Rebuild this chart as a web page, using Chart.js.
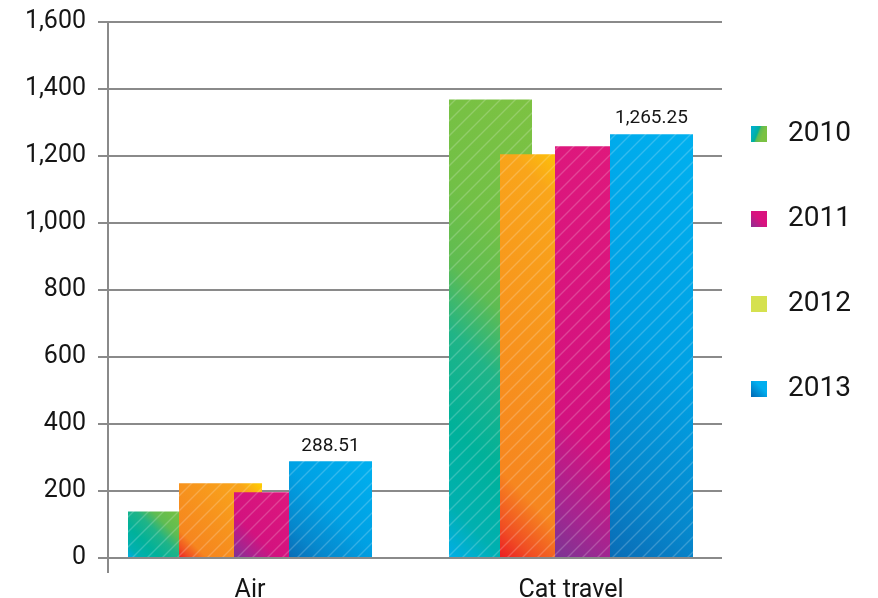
<!DOCTYPE html>
<html>
<head>
<meta charset="utf-8">
<script src="https://cdn.jsdelivr.net/npm/chart.js@4.4.1/dist/chart.umd.min.js"></script>
<style>
  html, body { margin: 0; padding: 0; background: #ffffff; }
  canvas { display: block; }
</style>
</head>
<body>
<canvas id="chart" width="878" height="598"></canvas>
<script>
// ---- data ----
const CATEGORIES = ['Air', 'Cat travel'];
const SERIES = ['2010', '2011', '2012', '2013'];
const VALUES_2010 = [139, 1369];
const VALUES_2011 = [223, 1205];
const VALUES_2012 = [196, 1229];
const VALUES_2013 = [288.51, 1265.25];
const Y_MIN = 0;
const Y_MAX = 1600;
const Y_STEP = 200;

const SERIES_VALUES = [VALUES_2010, VALUES_2011, VALUES_2012, VALUES_2013];

// ---- layout / style ----
// where each year's bar sits inside its category group (category units)
const GROUP_OFFSETS = [-0.2508, -0.0919, 0.0794, 0.2508];
const BAR_WIDTH = 83;
const GRID_COLOR = '#8a8a8a';
const TEXT_COLOR = '#151515';
const FONT = 'Roboto';

// colour stops along a 45° ramp from a bar's bottom-left to its top-right corner
const BAR_STOPS = [
  [[0, '#00aee8'], [0.1, '#00b0b0'], [0.25, '#00b19a'], [0.42, '#20b487'], [0.55, '#5fbc52'], [0.7, '#72c046'], [1, '#7dc242']],
  [[0, '#ec1c24'], [0.07, '#f04e23'], [0.18, '#f6861f'], [0.5, '#f7941d'], [0.85, '#f9a51a'], [1, '#ffd000']],
  [[0, '#7b3694'], [0.12, '#a42590'], [0.3, '#d3127f'], [1, '#e0197c']],
  [[0, '#0a6cb6'], [0.2, '#0687cc'], [0.5, '#00a0e3'], [1, '#00b0ef']]
];
const FLAT_COLORS = ['#4fb86b', '#f7931e', '#d7117f', '#00a0e3'];

// gradient + white hatching, built in canvas space for one bar
function barFill(seriesIndex) {
  return (ctx) => {
    const chart = ctx.chart;
    const xs = chart.scales && chart.scales.x;
    const ys = chart.scales && chart.scales.y;
    if (!xs || !ys || !ctx.parsed || !chart.chartArea) return FLAT_COLORS[seriesIndex];
    const cx = xs.getPixelForValue(ctx.parsed.x);
    const top = ys.getPixelForValue(ctx.parsed.y);
    const bottom = ys.getPixelForValue(0);
    const left = cx - BAR_WIDTH / 2;
    const right = cx + BAR_WIDTH / 2;
    if (!isFinite(cx) || !isFinite(top)) return FLAT_COLORS[seriesIndex];

    const c = document.createElement('canvas');
    c.width = chart.width;
    c.height = chart.height;
    const g = c.getContext('2d');
    const span = (right - left) + (bottom - top);
    const grad = g.createLinearGradient(left, bottom, left + span / 2, bottom - span / 2);
    BAR_STOPS[seriesIndex].forEach(([o, col]) => grad.addColorStop(o, col));
    g.fillStyle = grad;
    g.fillRect(left - 1, top - 1, right - left + 2, bottom - top + 2);

    g.save();
    g.beginPath();
    g.rect(left - 1, top - 1, right - left + 2, bottom - top + 2);
    g.clip();
    g.strokeStyle = 'rgba(255,255,255,0.2)';
    g.lineWidth = 1.4;
    g.beginPath();
    const step = 15;
    const start = Math.floor((left + top) / step) * step;
    for (let k = start; k <= right + bottom + step; k += step) {
      g.moveTo(k - bottom - 2, bottom + 2);
      g.lineTo(k - top + 2, top - 2);
    }
    g.stroke();
    g.restore();
    return g.createPattern(c, 'no-repeat');
  };
}

// small legend swatches
function swatch(paint) {
  const c = document.createElement('canvas');
  c.width = 16;
  c.height = 16;
  paint(c.getContext('2d'));
  return c;
}
const SWATCHES = [
  swatch((g) => {
    const gr = g.createLinearGradient(3, 2, 13, 6);
    gr.addColorStop(0, '#00afc8');
    gr.addColorStop(0.45, '#00b09a');
    gr.addColorStop(0.62, '#5cbb55');
    gr.addColorStop(1, '#7ac143');
    g.fillStyle = gr; g.fillRect(0, 0, 16, 16);
  }),
  swatch((g) => {
    const gr = g.createLinearGradient(0, 16, 8, 8);
    gr.addColorStop(0, '#8a3093');
    gr.addColorStop(1, '#d9127f');
    g.fillStyle = gr; g.fillRect(0, 0, 16, 16);
  }),
  swatch((g) => {
    g.fillStyle = '#d5e14f'; g.fillRect(0, 0, 16, 16);
  }),
  swatch((g) => {
    const gr = g.createLinearGradient(0, 16, 10, 6);
    gr.addColorStop(0, '#0066b1');
    gr.addColorStop(1, '#00aeef');
    g.fillStyle = gr; g.fillRect(0, 0, 16, 16);
  })
];

const datasets = SERIES.map((name, s) => ({
  label: name,
  data: CATEGORIES.map((_, i) => ({ x: i + GROUP_OFFSETS[s], y: SERIES_VALUES[s][i] })),
  backgroundColor: barFill(s),
  borderWidth: 0,
  grouped: false,
  barPercentage: 10,
  categoryPercentage: 1,
  maxBarThickness: BAR_WIDTH,
  order: SERIES.length - 1 - s
}));

const fmt2 = (v) => v.toLocaleString('en-US', { minimumFractionDigits: 2, maximumFractionDigits: 2 });

// value labels above the 2013 bars
const valueLabels = {
  id: 'valueLabels',
  afterDatasetsDraw(chart) {
    const s = SERIES.length - 1;
    const meta = chart.getDatasetMeta(s);
    const ctx = chart.ctx;
    ctx.save();
    ctx.font = '19px ' + FONT;
    ctx.fillStyle = TEXT_COLOR;
    ctx.textAlign = 'center';
    ctx.textBaseline = 'bottom';
    meta.data.forEach((bar, i) => {
      ctx.fillText(fmt2(SERIES_VALUES[s][i]), bar.x, bar.y - 6);
    });
    ctx.restore();
  }
};

// the y axis line runs a little below the plot
const axisStub = {
  id: 'axisStub',
  afterDraw(chart) {
    const { left, bottom } = chart.chartArea;
    const ctx = chart.ctx;
    ctx.save();
    ctx.strokeStyle = GRID_COLOR;
    ctx.lineWidth = 2;
    ctx.beginPath();
    ctx.moveTo(Math.round(left), bottom);
    ctx.lineTo(Math.round(left), bottom + 15);
    ctx.stroke();
    ctx.restore();
  }
};

new Chart(document.getElementById('chart'), {
  type: 'bar',
  data: { datasets },
  plugins: [valueLabels, axisStub],
  options: {
    responsive: false,
    animation: false,
    events: [],
    locale: 'en-US',
    layout: { padding: { top: 22, right: 27, bottom: 0, left: 0 } },
    plugins: {
      tooltip: { enabled: false },
      title: { display: false },
      legend: {
        position: 'right',
        fullSize: false,
        maxWidth: 129,
        align: 'center',
        labels: {
          usePointStyle: true,
          pointStyleWidth: 74,
          padding: 0,
          textAlign: 'right',
          color: TEXT_COLOR,
          font: { family: FONT, size: 28, lineHeight: '85px' },
          generateLabels: () => SERIES.map((name, i) => ({
            text: [name],
            pointStyle: SWATCHES[i],
            fillStyle: 'transparent',
            strokeStyle: 'transparent',
            lineWidth: 0,
            hidden: false,
            datasetIndex: i,
            fontColor: TEXT_COLOR
          }))
        }
      }
    },
    scales: {
      x: {
        type: 'linear',
        offset: false,
        min: -0.4424,
        max: 1.4704,
        grid: { display: false },
        border: { display: false },
        afterBuildTicks: (scale) => { scale.ticks = CATEGORIES.map((_, i) => ({ value: i })); },
        afterFit: (scale) => { scale.height = 40; },
        ticks: {
          autoSkip: false,
          maxRotation: 0,
          padding: 10,
          color: TEXT_COLOR,
          font: { family: FONT, size: 25 },
          callback: (value, index) => CATEGORIES[index]
        }
      },
      y: {
        min: Y_MIN,
        max: Y_MAX,
        afterFit: (scale) => {
          scale.width = 108;
          scale.paddingTop = 0;
          scale.paddingBottom = 0;
        },
        grid: {
          color: GRID_COLOR,
          lineWidth: 2,
          tickLength: 10,
          drawTicks: true
        },
        border: { display: true, color: GRID_COLOR, width: 2 },
        ticks: {
          stepSize: Y_STEP,
          padding: 12,
          color: TEXT_COLOR,
          font: { family: FONT, size: 25 }
        }
      }
    }
  }
});
</script>
</body>
</html>
